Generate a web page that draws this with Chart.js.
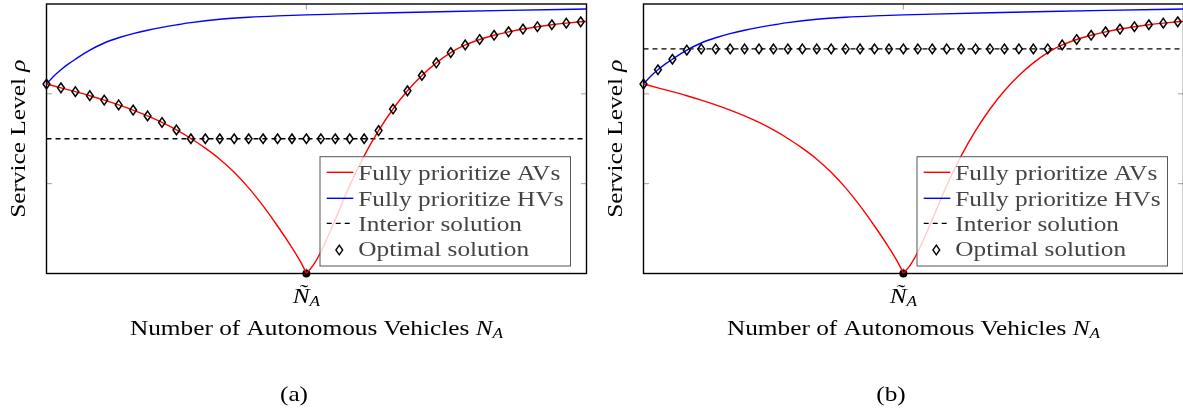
<!DOCTYPE html>
<html>
<head>
<meta charset="utf-8">
<script src="https://cdn.jsdelivr.net/npm/chart.js@4.4.1/dist/chart.umd.min.js"></script>
<style>
  html, body { margin: 0; padding: 0; background: #fff; overflow: hidden; }
  #wrap { position: relative; width: 1183px; height: 413px; overflow: hidden; }
  .panel { position: absolute; top: 0; width: 597px; height: 413px; }
</style>
</head>
<body>
<div id="wrap">
  <div class="panel" style="left:0"><canvas id="chartA" width="597" height="413"></canvas></div>
  <div class="panel" style="left:597px"><canvas id="chartB" width="597" height="413"></canvas></div>
</div>
<script>
// x = number of AVs (in marker steps), y = service level (axis 0..3)
var redLeftX = [0, 1, 2, 3, 4, 5, 6, 7, 8, 9, 10, 11, 12, 13, 14, 15, 16, 17, 17.5, 17.8, 18];
var redLeftY = [2.109, 2.067, 2.024, 1.979, 1.930, 1.877, 1.819, 1.754, 1.681, 1.598, 1.503, 1.395, 1.272, 1.126, 0.953, 0.752, 0.529, 0.288, 0.157, 0.068, 0];
var redRightX = [18, 18.5, 19, 20, 21, 22, 23, 24, 25, 26, 27, 28, 29, 30, 31, 32, 33, 34, 35, 36, 37, 37.4];
var redRightY = [0, 0.10, 0.24, 0.60, 0.98, 1.31, 1.591, 1.831, 2.034, 2.204, 2.345, 2.459, 2.544, 2.605, 2.652, 2.690, 2.721, 2.747, 2.769, 2.787, 2.802, 2.807];
var blueX = [0, 0.5, 1, 1.5, 2, 3, 4, 5, 6, 7, 8, 9, 10, 12, 14, 16, 18, 20, 24, 28, 32, 37.4];
var blueY = [2.109, 2.196, 2.268, 2.330, 2.385, 2.486, 2.566, 2.624, 2.670, 2.708, 2.740, 2.768, 2.793, 2.830, 2.853, 2.868, 2.879, 2.887, 2.902, 2.916, 2.929, 2.944];

var markerX = [0, 1, 2, 3, 4, 5, 6, 7, 8, 9, 10, 11, 12, 13, 14, 15, 16, 17, 18, 19, 20, 21, 22, 23, 24, 25, 26, 27, 28, 29, 30, 31, 32, 33, 34, 35, 36, 37];
var optimalA = [2.109, 2.067, 2.024, 1.979, 1.930, 1.877, 1.819, 1.754, 1.681, 1.598, 1.5,
  1.5, 1.5, 1.5, 1.5, 1.5, 1.5, 1.5, 1.5, 1.5, 1.5, 1.5, 1.5,
  1.591, 1.831, 2.034, 2.204, 2.345, 2.459, 2.544, 2.605, 2.652, 2.690, 2.721, 2.747, 2.769, 2.787, 2.802];
var optimalB = [2.109, 2.268, 2.385, 2.486,
  2.5, 2.5, 2.5, 2.5, 2.5, 2.5, 2.5, 2.5, 2.5, 2.5, 2.5, 2.5, 2.5, 2.5, 2.5, 2.5, 2.5, 2.5, 2.5, 2.5, 2.5, 2.5, 2.5, 2.5, 2.5,
  2.544, 2.605, 2.652, 2.690, 2.721, 2.747, 2.769, 2.787, 2.802];
var interiorA = 1.5;
var interiorB = 2.5;

var nTilde = 18;
var xMax = 37.4;
var yTicks = [1, 2];
var legendLabels = ['Fully prioritize AVs', 'Fully prioritize HVs', 'Interior solution', 'Optimal solution'];
var captions = ['(a)', '(b)'];

var SX = 1.15;
function fnt(size, italic) {
    return (italic ? 'italic ' : '') + size + 'px "Liberation Serif", serif';
}
function runsWidth(ctx, runs) {
    var w = 0;
    runs.forEach(function(r) { ctx.font = r.font; w += ctx.measureText(r.t).width * SX; });
    return w;
}
function drawRuns(ctx, runs, x, by, align) {
    if (align !== 'left') x -= runsWidth(ctx, runs) / 2;
    runs.forEach(function(r) {
        ctx.font = r.font;
        ctx.save();
        ctx.translate(x, by + (r.dy || 0));
        ctx.scale(SX, 1);
        ctx.textAlign = 'left';
        ctx.textBaseline = 'alphabetic';
        ctx.fillText(r.t, 0, 0);
        ctx.restore();
        x += ctx.measureText(r.t).width * SX;
    });
}

// hollow diamond mark, a bit taller than wide
function diamond(ctx, x, y) {
    ctx.beginPath();
    ctx.moveTo(x, y - 4.8);
    ctx.lineTo(x + 3.4, y);
    ctx.lineTo(x, y + 4.8);
    ctx.lineTo(x - 3.4, y);
    ctx.closePath();
    ctx.stroke();
}

function zip(xs, ys) {
    return xs.map(function(x, i) { return {x: x, y: ys[i]}; });
}

var decor = {
    id: 'decor',
    beforeDatasetsDraw: function(chart) {
        var ctx = chart.ctx, ca = chart.chartArea;
        var xs = chart.scales.x, ys = chart.scales.y;
        ctx.save();
        // inward ticks
        ctx.strokeStyle = '#a0a0a0';
        ctx.lineWidth = 1;
        ctx.beginPath();
        yTicks.forEach(function(t) {
            var py = ys.getPixelForValue(t);
            ctx.moveTo(ca.left, py); ctx.lineTo(ca.left + 5.5, py);
            ctx.moveTo(ca.right, py); ctx.lineTo(ca.right - 5.5, py);
        });
        var px = xs.getPixelForValue(nTilde);
        ctx.moveTo(px, ca.top); ctx.lineTo(px, ca.top + 5.5);
        ctx.moveTo(px, ca.bottom); ctx.lineTo(px, ca.bottom - 5.5);
        ctx.stroke();
        // axis box
        ctx.strokeStyle = '#000';
        ctx.lineWidth = 1.4;
        ctx.strokeRect(ca.left, ca.top, ca.right - ca.left, ca.bottom - ca.top);
        ctx.restore();
    },
    afterDatasetsDraw: function(chart) {
        var ctx = chart.ctx, ca = chart.chartArea;
        var xs = chart.scales.x;
        var idx = chart.options.plugins.decor.index;
        ctx.save();
        // optimal solution marks at the points placed by the scales
        ctx.strokeStyle = '#000';
        ctx.lineWidth = 1.5;
        chart.getDatasetMeta(4).data.forEach(function(pt) { diamond(ctx, pt.x, pt.y); });

        ctx.fillStyle = '#000';
        // tick label
        drawRuns(ctx, [{t: '\u00D1', font: fnt(22, true)}, {t: 'A', font: fnt(15, true), dy: 3}],
            xs.getPixelForValue(nTilde), 303);
        // x title
        drawRuns(ctx, [{t: 'Number of Autonomous Vehicles ', font: fnt(22)},
            {t: 'N', font: fnt(22, true)}, {t: 'A', font: fnt(15, true), dy: 3}],
            (ca.left + ca.right) / 2, 335);
        // y title
        ctx.save();
        ctx.translate(25, (ca.top + ca.bottom) / 2);
        ctx.rotate(-Math.PI / 2);
        drawRuns(ctx, [{t: 'Service Level ', font: fnt(22)}, {t: '\u03C1', font: fnt(22, true)}], 0, 0);
        ctx.restore();
        // caption
        drawRuns(ctx, [{t: captions[idx], font: fnt(22)}], 294, 401);

        // legend
        var bw = 250.5, bh = 109.3;
        var bx = ca.right - 16 - bw, by = ca.bottom - 7.5 - bh;
        ctx.fillStyle = 'rgba(255,255,255,0.8)';
        ctx.fillRect(bx, by, bw, bh);
        ctx.strokeStyle = '#555';
        ctx.lineWidth = 1;
        ctx.strokeRect(bx, by, bw, bh);
        var rowsLine = [15.6, 41.6, 66.6, 93.3];
        var rowsText = [23.3, 49, 74, 99.3];
        var ds = chart.data.datasets;
        var styleIdx = [0, 2, 3];
        styleIdx.forEach(function(d, r) {
            ctx.strokeStyle = ds[d].borderColor;
            ctx.lineWidth = ds[d].borderWidth;
            ctx.setLineDash(ds[d].borderDash || []);
            ctx.beginPath();
            ctx.moveTo(bx + 6.7, by + rowsLine[r]);
            ctx.lineTo(bx + 33.3, by + rowsLine[r]);
            ctx.stroke();
        });
        ctx.setLineDash([]);
        ctx.strokeStyle = '#000';
        ctx.lineWidth = 1.4;
        diamond(ctx, bx + 19.3, by + rowsLine[3]);
        ctx.fillStyle = '#444';
        legendLabels.forEach(function(lab, r) {
            drawRuns(ctx, [{t: lab, font: fnt(22)}], bx + 38.3, by + rowsText[r], 'left');
        });
        ctx.restore();
    }
};

function makeChart(id, idx, interior, optimal) {
    var lineBase = {showLine: true, pointRadius: 0, borderWidth: 1.4, fill: false, cubicInterpolationMode: 'monotone'};
    return new Chart(document.getElementById(id), {
        type: 'scatter',
        data: {
            datasets: [
                Object.assign({data: zip(redLeftX, redLeftY), borderColor: '#ff0000'}, lineBase),
                Object.assign({data: zip(redRightX, redRightY), borderColor: '#ff0000'}, lineBase),
                Object.assign({data: zip(blueX, blueY), borderColor: '#0000ff'}, lineBase),
                Object.assign({}, lineBase, {data: [{x: 0, y: interior}, {x: xMax, y: interior}], borderColor: '#000000', borderDash: [5, 4], borderWidth: 1.3}),
                {data: zip(markerX, optimal), showLine: false, pointRadius: 0, clip: false},
                {data: [{x: nTilde, y: 0}], showLine: false, pointRadius: 4, backgroundColor: '#000', borderWidth: 0, clip: false}
            ]
        },
        options: {
            responsive: false,
            animation: false,
            devicePixelRatio: 1,
            layout: {padding: {left: 46.5, top: 3, right: 10.5, bottom: 139.5}},
            scales: {
                x: {type: 'linear', display: false, min: 0, max: xMax},
                y: {type: 'linear', display: false, min: 0, max: 3}
            },
            plugins: {
                legend: {display: false},
                tooltip: {enabled: false},
                decor: {index: idx}
            }
        },
        plugins: [decor]
    });
}

makeChart('chartA', 0, interiorA, optimalA);
makeChart('chartB', 1, interiorB, optimalB);
</script>
</body>
</html>
